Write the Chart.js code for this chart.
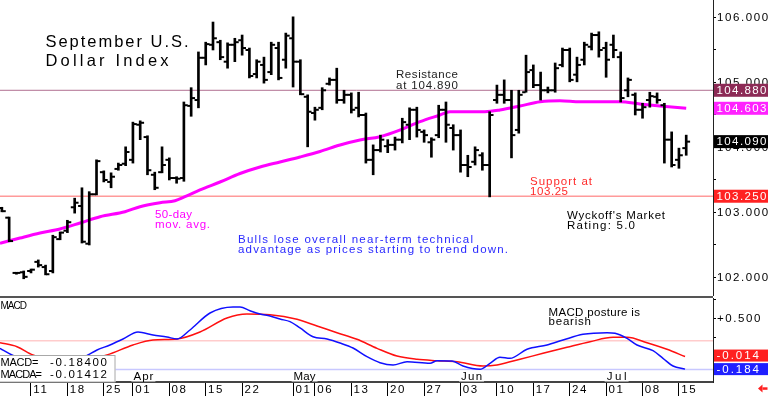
<!DOCTYPE html>
<html><head><meta charset="utf-8">
<script src="https://cdn.jsdelivr.net/npm/chart.js@4"></script>
<style>
html,body{margin:0;padding:0;background:#fff;width:768px;height:396px;overflow:hidden}
#wrap{position:relative;width:768px;height:396px;background:#fff}
#pc{position:absolute;left:0;top:0;width:768px;height:296px}
#mc{position:absolute;left:0;top:296px;width:768px;height:100px}
#sep{position:absolute;left:0;top:296px;width:713px;height:2px;background:#555}
</style></head><body>
<div id="wrap">
<canvas id="pc" width="768" height="296"></canvas>
<canvas id="mc" width="768" height="100"></canvas>
<div id="sep"></div>
</div>
<script>
// ---- DATA (x = trading-day index, 0 = Mar 11) ----
const FIRST_DAY = -4;
const highs = [103.08,102.93,102.08,102.10,102.13,102.27,102.19,102.65,102.70,102.88,
 103.22,103.38,103.32,103.81,103.64,103.61,103.76,104.01,104.39,104.41,
 104.18,103.62,104.01,103.84,103.55,104.70,104.92,105.47,105.62,105.93,
 105.65,105.61,105.68,105.73,105.53,105.35,105.39,105.62,105.62,105.76,
 106.01,105.35,104.81,104.62,104.92,105.07,105.22,104.88,104.84,104.85,
 104.53,104.04,104.19,104.12,104.16,104.45,104.61,104.62,104.27,104.15,
 104.65,104.70,104.35,104.27,103.88,104.01,103.92,104.55,104.96,105.04,
 104.88,104.88,105.42,105.27,105.16,104.93,105.30,105.53,105.53,105.39,
 105.62,105.76,105.78,105.62,105.73,105.47,105.07,104.84,104.68,104.85,
 104.84,104.68,104.24,103.99,104.19];
const lows = [103.01,102.55,102.05,101.98,102.07,102.16,102.04,102.07,102.58,102.69,
 102.99,102.53,102.50,103.27,103.47,103.38,103.65,103.72,103.76,104.12,
 103.58,103.35,103.61,103.50,103.45,103.48,104.48,104.61,105.27,105.50,
 105.35,105.22,105.32,105.42,105.07,105.07,104.99,105.12,105.04,105.22,
 104.93,104.81,104.01,104.42,104.58,104.96,104.68,104.68,104.53,104.47,
 103.76,103.58,103.93,103.92,103.96,104.07,104.12,104.16,104.08,103.85,
 104.15,104.08,103.96,103.62,103.55,103.73,103.65,103.24,104.68,104.68,
 103.84,104.22,104.85,104.92,104.73,104.84,104.85,105.24,105.01,105.01,
 105.27,105.50,105.39,105.08,105.38,104.70,104.78,104.50,104.45,104.62,
 104.68,103.76,103.70,103.68,103.88];
const opens = [103.07,102.92,102.07,102.08,102.10,102.24,102.16,102.10,102.59,102.72,
 103.08,103.10,102.52,103.28,103.62,103.47,103.67,103.75,103.81,104.35,
 104.16,103.58,103.62,103.81,103.53,103.53,104.64,104.73,105.38,105.58,
 105.62,105.32,105.58,105.65,105.50,105.13,105.27,105.16,105.53,105.35,
 105.68,105.32,104.78,104.53,104.61,104.98,105.04,104.73,104.81,104.61,
 104.50,103.81,103.96,104.02,104.04,104.12,104.35,104.58,104.24,104.08,
 104.19,104.58,104.30,104.19,103.73,103.78,103.88,103.73,104.73,104.81,
 104.73,104.27,104.85,105.19,104.96,104.88,104.88,105.27,105.50,105.12,
 105.35,105.55,105.73,105.53,105.58,105.39,104.88,104.81,104.58,104.73,
 104.78,104.65,104.12,103.81,103.99];
const closes = [103.02,102.56,102.07,102.01,102.12,102.19,102.05,102.62,102.69,102.85,
 103.15,102.55,103.28,103.79,103.50,103.55,103.73,103.93,104.36,104.38,
 103.65,103.38,103.73,103.53,103.52,104.65,104.76,105.38,105.59,105.68,
 105.39,105.58,105.62,105.53,105.10,105.32,105.04,105.58,105.07,105.72,
 105.32,104.82,104.55,104.58,104.88,105.04,104.73,104.81,104.58,104.50,
 103.81,103.96,104.12,104.04,104.12,104.39,104.58,104.27,104.19,104.12,
 104.58,104.35,104.19,103.73,103.70,103.96,103.73,104.50,104.81,104.73,
 104.19,104.81,105.16,104.96,104.88,104.88,105.22,105.50,105.04,105.27,
 105.58,105.73,105.50,105.35,105.50,104.76,105.04,104.58,104.62,104.79,
 104.73,104.12,103.73,103.88,104.09];

const maDays = [-4.26,-1.51,1.24,3.98,6.73,9.48,12.91,14.97,17.72,19.78,21.15,23.21,25.96,28.71,31.46,34.20,36.95,39.70,42.45,45.19,47.94,50.69,53.43,56.18,57.55,62.36,64.42,67.17,69.92,72.66,75.41,78.16,80.91,83.65,86.40,90];
const maVals = [102.526,102.607,102.684,102.746,102.838,102.935,103.012,103.089,103.151,103.181,103.243,103.346,103.469,103.600,103.700,103.777,103.854,103.938,104.038,104.115,104.166,104.269,104.397,104.500,104.551,104.551,104.577,104.638,104.704,104.720,104.704,104.704,104.704,104.669,104.638,104.603];

const macdDays = [-4.26,-2.61,-0.14,2.61,5.36,7.83,9.07,10.85,12.64,14.70,16.76,18.68,20.05,21.84,24.59,27.75,28.71,30.08,31.46,32.83,34.20,35.58,36.95,38.74,40.66,42.45,44.23,46.15,47.94,49.73,51.65,54.81,55.77,57.83,59.34,61.68,63.05,64.42,65.80,68.13,70.88,73.08,75.82,79.12,80.22,81.87,83.24,85.44,86.81,88.19,89.84];
const macdVals = [0.097,0.007,-0.101,-0.155,-0.115,0.007,0.074,0.142,0.223,0.318,0.277,0.250,0.223,0.345,0.574,0.655,0.655,0.605,0.561,0.534,0.493,0.457,0.372,0.254,0.223,0.169,0.101,-0.016,-0.097,-0.128,-0.084,-0.105,-0.070,-0.074,-0.142,-0.186,-0.105,-0.024,-0.038,0.084,0.142,0.209,0.286,0.308,0.300,0.232,0.142,0.065,-0.038,-0.142,-0.184];
const sigDays = [-4.26,-1.92,0.27,3.98,7.42,10.44,14.01,16.76,20.05,23.21,26.92,29.67,32.83,36.54,39.29,42.03,44.78,47.53,50.27,53.02,55.77,58.52,62.09,64.01,65.80,67.17,70.33,73.63,76.79,79.95,81.87,84.62,87.36,89.84];
const sigVals = [0.173,0.119,0.007,-0.074,-0.061,0.007,0.142,0.209,0.223,0.318,0.507,0.561,0.551,0.489,0.399,0.308,0.219,0.097,-0.007,-0.051,-0.070,-0.084,-0.142,-0.128,-0.084,-0.051,0.030,0.111,0.186,0.246,0.246,0.173,0.084,-0.01412];

const resistance = 104.88;
const support = 103.25;
const macdUpper = 0.2;
const macdLower = -0.19;

const tickDays = [0,5,10,14,19,24,29,36,39,44,49,54,59,64,69,74,79,84,89];
const tickLabels = ['11','18','25','01','08','15','22','01','06','13','20','27','03','10','17','24','01','08','15'];
const monthDays = [14,36,59,79];
const monthLabels = ['Apr','May','Jun','Jul'];
const priceTicks = [102,102.5,103,103.5,104,104.5,105,105.5,106];
const priceTickLabels = ['102.000','','103.000','','104.000','','105.000','','106.000'];
const macdTicks = [-0.25,0,0.25,0.5,0.75];
const macdTickLabels = ['','','','+0.500',''];

// ---- VIEW ----
const X_MIN = -4.258, X_MAX = 93.68;
const P_MIN = 101.715, P_MAX = 106.269;
const M_MIN = -0.358, M_MAX = 0.777;
const FONT = '"Liberation Sans", Arial, Helvetica, sans-serif';
const HAS_LS = 'letterSpacing' in CanvasRenderingContext2D.prototype;

function drawSpaced(ctx, text, x, y, width, size, color, baseline) {
  ctx.save();
  ctx.font = size + 'px ' + FONT;
  if (HAS_LS) ctx.letterSpacing = '0px';
  const w = ctx.measureText(text).width;
  if (HAS_LS && text.length > 1) ctx.letterSpacing = ((width - w) / (text.length - 1)) + 'px';
  ctx.fillStyle = color;
  ctx.textAlign = 'left';
  ctx.textBaseline = baseline || 'alphabetic';
  ctx.fillText(text, x, y);
  ctx.restore();
}
function valueBox(ctx, yPix, h, color, text, width) {
  ctx.save();
  ctx.fillStyle = color;
  ctx.fillRect(714, yPix - h / 2, 54, h);
  ctx.restore();
  drawSpaced(ctx, text, 716.5, yPix + 0.5, width, 11.5, '#fff', 'middle');
}

const lastOf = arr => arr[arr.length - 1];
const pts = (xs, ys) => xs.map((x, k) => ({x: x, y: ys[k]}));
const hline = v => [{x: X_MIN - 1, y: v}, {x: X_MAX + 1, y: v}];

const barData = highs.map((h, k) => ({x: k + FIRST_DAY, y: [lows[k], h]}));
const openData = opens.map((o, k) => ({x: k + FIRST_DAY - 0.3, y: o}));
const closeData = closes.map((c, k) => ({x: k + FIRST_DAY + 0.3, y: c}));

const tickDs = (data) => ({type: 'line', data: data, showLine: false, pointStyle: 'line',
  pointRadius: 1.7, pointHoverRadius: 1.7, pointBorderWidth: 2, pointBorderColor: '#000', pointBackgroundColor: '#000'});

const commonOpts = {
  responsive: false, animation: false, events: [],
  plugins: {legend: {display: false}, tooltip: {enabled: false}}
};

const pricePlugin = {
  id: 'pricePlugin',
  beforeDraw(chart) { if (HAS_LS) chart.ctx.letterSpacing = '1.6px'; },
  afterDraw(chart) {
    const ctx = chart.ctx;
    if (HAS_LS) ctx.letterSpacing = '0px';
    const ys = chart.scales.y;
    drawSpaced(ctx, 'September U.S.', 45.5, 47, 143, 16.5, '#000');
    drawSpaced(ctx, 'Dollar Index', 45.5, 65.5, 123, 16.5, '#000');
    drawSpaced(ctx, 'Resistance', 396, 78, 62, 11.5, '#222');
    drawSpaced(ctx, 'at 104.890', 396, 88.5, 62, 11.5, '#222');
    drawSpaced(ctx, 'Support at', 530, 184.5, 62, 11.5, '#ff2a2a');
    drawSpaced(ctx, '103.25', 530, 195, 38, 11.5, '#ff2a2a');
    drawSpaced(ctx, '50-day', 155, 217.5, 37, 11.5, '#ff00ff');
    drawSpaced(ctx, 'mov. avg.', 155, 227.5, 55, 11.5, '#ff00ff');
    drawSpaced(ctx, "Wyckoff's Market", 567, 218.5, 98, 11.5, '#000');
    drawSpaced(ctx, 'Rating: 5.0', 567, 229, 68, 11.5, '#000');
    drawSpaced(ctx, 'Bulls lose overall near-term technical', 238, 242.5, 235, 11.5, '#2a2aff');
    drawSpaced(ctx, 'advantage as prices starting to trend down.', 238, 253, 270, 11.5, '#2a2aff');
    valueBox(ctx, ys.getPixelForValue(resistance), 13, '#8c2a55', resistance.toFixed(3), 50);
    valueBox(ctx, ys.getPixelForValue(lastOf(maVals)), 13, '#ff22ff', lastOf(maVals).toFixed(3), 50);
    valueBox(ctx, ys.getPixelForValue(lastOf(closes)), 13, '#000', lastOf(closes).toFixed(3), 50);
    valueBox(ctx, ys.getPixelForValue(support), 13, '#ff2222', support.toFixed(3), 50);
  }
};

new Chart(document.getElementById('pc'), {
  type: 'bar',
  data: {datasets: [
    {type: 'bar', data: barData, backgroundColor: '#000', borderWidth: 0, barThickness: 2, borderSkipped: false},
    tickDs(openData),
    tickDs(closeData),
    {type: 'line', data: pts(maDays, maVals), borderColor: '#ff00ff', borderWidth: 3, pointRadius: 0, pointHoverRadius: 0, cubicInterpolationMode: 'monotone'},
    {type: 'line', data: hline(resistance), borderColor: '#b07090', borderWidth: 1, pointRadius: 0, pointHoverRadius: 0},
    {type: 'line', data: hline(support), borderColor: '#ff9a9a', borderWidth: 1.5, pointRadius: 0, pointHoverRadius: 0}
  ]},
  options: Object.assign({}, commonOpts, {
    layout: {padding: 0, autoPadding: false},
    scales: {
      x: {type: 'linear', min: X_MIN, max: X_MAX, display: false, offset: false, grid: {offset: false}},
      y: {type: 'linear', position: 'right', min: P_MIN, max: P_MAX, bounds: 'data',
        afterBuildTicks: s => { s.ticks = priceTicks.map(v => ({value: v})); },
        afterFit: s => { s.width = 55; s.paddingTop = 0; s.paddingBottom = 0; },
        ticks: {autoSkip: false, padding: 1, color: '#000', font: {family: FONT, size: 11.5},
          callback: v => priceTickLabels[priceTicks.indexOf(v)]},
        grid: {drawOnChartArea: false, drawTicks: true, tickLength: 3, color: '#000', lineWidth: 1},
        border: {display: true, color: '#222', width: 1}}
    }
  }),
  plugins: [pricePlugin]
});

const macdPlugin = {
  id: 'macdPlugin',
  beforeDraw(chart) { if (HAS_LS) chart.ctx.letterSpacing = '1.6px'; },
  beforeDatasetDraw(chart, args) {
    if (args.index !== 1) return;
    const ctx = chart.ctx;
    const xs = chart.scales.x;
    const widths = [20, 22, 21, 20];
    monthDays.forEach((d, k) => {
      const px = xs.getPixelForValue(d) + 0.5;
      ctx.save(); ctx.fillStyle = '#fff';
      ctx.fillRect(px - 2, 370.5 - 296, widths[k] + 4, 11);
      ctx.restore();
      drawSpaced(ctx, monthLabels[k], px, 380 - 296, widths[k], 11.5, '#000');
    });
  },
  afterDatasetsDraw(chart) {
    const ctx = chart.ctx;
    const T = 296;
    ctx.save();
    ctx.fillStyle = '#fff';
    ctx.fillRect(-1, 355.5 - T, 116.5, 382 - 355.5);
    ctx.strokeStyle = '#a8a8a8'; ctx.lineWidth = 1;
    ctx.strokeRect(-0.5, 355.5 - T, 115.5, 382 - 355.5);
    ctx.restore();
    drawSpaced(ctx, 'MACD=', 0.5, 366 - T, 38, 11, '#000');
    drawSpaced(ctx, lastOf(macdVals).toFixed(5), 50, 366 - T, 57, 11.5, '#000');
    drawSpaced(ctx, 'MACDA=', 0.5, 377.7 - T, 41.5, 11, '#000');
    drawSpaced(ctx, lastOf(sigVals).toFixed(5), 50, 377.7 - T, 57, 11.5, '#000');
  },
  afterDraw(chart) {
    const ctx = chart.ctx;
    const T = 296;
    if (HAS_LS) ctx.letterSpacing = '0px';
    const ys = chart.scales.y;
    drawSpaced(ctx, 'MACD', 0.5, 309 - T, 26.5, 10, '#000');
    drawSpaced(ctx, 'MACD posture is', 548.5, 316 - T, 91.5, 11.5, '#000');
    drawSpaced(ctx, 'bearish', 548.5, 325 - T, 42.5, 11.5, '#000');
    const sv = lastOf(sigVals), mv = lastOf(macdVals);
    valueBox(ctx, ys.getPixelForValue(sv) - 1, 12, '#ff2020', sv.toFixed(3), 42.5);
    valueBox(ctx, ys.getPixelForValue(mv), 12, '#2020ff', mv.toFixed(3), 42.5);
    // small red arrow at bottom right
    ctx.save();
    ctx.fillStyle = '#ff2020';
    ctx.beginPath();
    ctx.moveTo(758, 388.5 - T); ctx.lineTo(762.5, 384.5 - T); ctx.lineTo(762.5, 392.5 - T); ctx.closePath();
    ctx.fill();
    ctx.fillRect(762.5, 387.3 - T, 5, 2.5);
    ctx.restore();
  }
};

new Chart(document.getElementById('mc'), {
  type: 'line',
  data: {datasets: [
    {data: pts(macdDays, macdVals), borderColor: '#1010ff', borderWidth: 1.5, pointRadius: 0, pointHoverRadius: 0, cubicInterpolationMode: 'monotone'},
    {data: pts(sigDays, sigVals), borderColor: '#ff1010', borderWidth: 1.5, pointRadius: 0, pointHoverRadius: 0, cubicInterpolationMode: 'monotone'},
    {data: hline(macdUpper), borderColor: '#ffcccc', borderWidth: 1.5, pointRadius: 0, pointHoverRadius: 0},
    {data: hline(macdLower), borderColor: '#c8c8ff', borderWidth: 1.5, pointRadius: 0, pointHoverRadius: 0}
  ]},
  options: Object.assign({}, commonOpts, {
    layout: {padding: {top: 2, left: 0, right: 0, bottom: 0}, autoPadding: false},
    scales: {
      x: {type: 'linear', position: 'bottom', min: X_MIN, max: X_MAX, offset: false, bounds: 'data',
        afterBuildTicks: s => { s.ticks = tickDays.map(v => ({value: v})); },
        afterFit: s => { s.height = 14; s.paddingLeft = 0; s.paddingRight = 0; },
        ticks: {autoSkip: false, maxRotation: 0, minRotation: 0, align: 'start', labelOffset: 2.3, padding: -13,
          color: '#000', font: {family: FONT, size: 11.5},
          callback: v => tickLabels[tickDays.indexOf(v)]},
        grid: {drawOnChartArea: false, drawTicks: true, tickLength: 14, color: '#000', lineWidth: 1},
        border: {display: true, color: '#444', width: 2}},
      y: {type: 'linear', position: 'right', min: M_MIN, max: M_MAX, bounds: 'data',
        afterBuildTicks: s => { s.ticks = macdTicks.map(v => ({value: v})); },
        afterFit: s => { s.width = 55; s.paddingTop = 0; s.paddingBottom = 0; },
        ticks: {autoSkip: false, padding: 1, color: '#000', font: {family: FONT, size: 11.5},
          callback: v => macdTickLabels[macdTicks.indexOf(v)]},
        grid: {drawOnChartArea: false, drawTicks: true, tickLength: 3, color: '#000', lineWidth: 1},
        border: {display: true, color: '#222', width: 1}}
    }
  }),
  plugins: [macdPlugin]
});
</script>
</body></html>
